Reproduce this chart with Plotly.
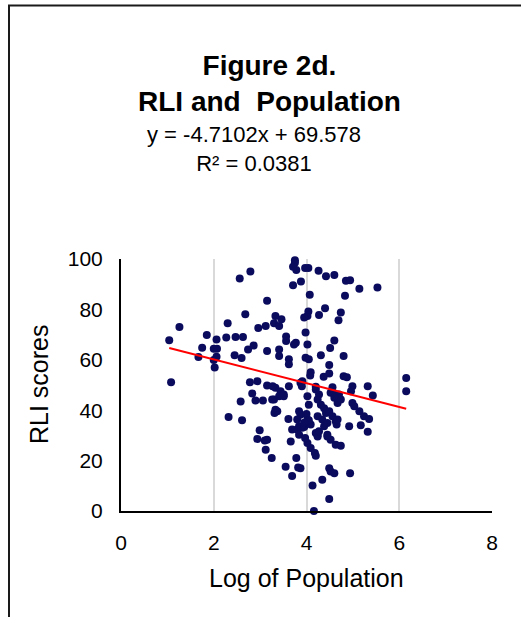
import plotly.graph_objects as go

# Log of population (x) and RLI scores (y)
log_population = [
    3.75, 3.75, 3.71, 3.78, 3.97, 4.04, 4.26, 4.42, 4.60, 4.85, 4.94, 5.14, 5.53,
    3.71, 3.88, 4.07, 4.83, 3.15, 4.40, 4.04, 4.02, 4.27, 4.74, 4.69, 3.95, 3.33,
    3.46, 3.30, 3.41, 3.12, 3.98, 3.56, 4.60, 3.77, 4.02,
    2.56, 2.79, 2.68, 2.30, 1.26, 2.96, 1.85, 1.04, 2.06, 2.27, 2.47, 2.63, 1.75,
    2.00, 2.07, 1.67, 2.00, 2.06, 2.02, 2.45, 2.60, 2.74, 2.86, 3.15, 3.41, 3.41,
    3.56, 3.73, 3.62, 3.62, 3.98, 4.05, 4.31, 4.51, 4.80, 4.49, 4.09, 4.08, 4.49,
    4.37, 4.80, 4.87, 6.15, 6.15,
    4.99, 5.32, 4.56, 4.20, 5.43, 4.96, 4.60, 4.70, 4.99, 5.03, 5.14, 5.24, 5.35,
    4.92, 5.17, 5.32, 4.63, 4.65, 4.20, 4.24, 4.45, 4.52, 4.63, 4.74, 4.02, 4.09,
    4.18, 4.20, 4.49, 4.52, 4.60, 4.94, 4.34, 4.13, 4.49, 4.16, 3.87, 4.24, 4.34,
    4.42,
    1.08, 2.78, 2.94, 3.15, 2.83, 2.58, 2.90, 3.06, 3.33, 3.44, 3.51, 3.62, 3.41,
    3.30, 3.33, 3.31, 2.32, 2.61, 2.99, 2.94, 3.10, 3.12, 3.25, 3.55, 3.69, 3.82,
    3.78, 3.61, 3.66, 3.69, 3.15, 3.80, 3.91, 3.84, 3.97, 3.27,
    3.87, 3.90, 3.26, 3.51, 3.37, 3.84, 3.87, 4.02, 4.05, 4.20, 4.27, 4.24, 4.31,
    4.52, 4.60, 4.67, 4.74, 4.38, 4.49, 4.56, 4.67, 3.80, 4.02, 4.45, 3.84, 3.95,
    4.09, 4.24, 4.27, 4.38, 4.45, 3.91, 4.00, 4.05, 3.95,
]
rli_scores = [
    99.5, 98.5, 96.9, 95.6, 96.4, 96.4, 95.3, 93.2, 93.7, 91.4, 91.6, 88.2, 88.7,
    89.6, 91.1, 85.8, 85.4, 83.4, 80.5, 79.2, 77.4, 77.8, 78.8, 75.7, 76.8, 77.4,
    76.1, 74.5, 73.4, 73.4, 70.8, 69.2, 67.7, 66.8, 66.1,
    92.3, 95.0, 78.1, 74.5, 73.0, 72.6, 69.8, 67.8, 68.1, 68.8, 69.0, 69.0, 64.8,
    64.4, 64.4, 61.1, 59.9, 61.2, 56.9, 61.8, 60.7, 64.1, 65.7, 63.5, 64.1, 61.5,
    67.5, 66.1, 60.2, 58.2, 60.8, 60.2, 61.8, 64.7, 61.5, 57.9, 55.1, 53.8, 54.6,
    53.3, 53.5, 53.1, 52.8, 47.5,
    49.5, 49.5, 49.1, 49.3, 45.8, 47.5, 46.2, 46.2, 42.9, 41.6, 39.6, 37.6, 36.5,
    33.6, 34.0, 31.4, 35.6, 34.3, 31.0, 30.3, 29.6, 28.3, 26.3, 25.9, 27.0, 25.0,
    23.0, 21.9, 17.0, 15.7, 15.0, 15.0, 12.4, 10.1, 4.8, 0.0, 17.0, 37.6, 36.3,
    38.9,
    51.1, 51.1, 51.5, 49.8, 46.6, 43.5, 43.8, 43.8, 48.9, 47.5, 46.2, 49.5, 45.5,
    44.2, 40.2, 38.9, 37.3, 36.0, 32.0, 28.6, 28.0, 24.3, 21.0, 17.6, 13.9, 17.3,
    21.0, 36.5, 27.6, 32.3, 28.3, 32.3, 33.0, 30.3, 29.0, 49.5,
    50.9, 49.5, 44.2, 45.5, 39.6, 39.6, 38.2, 45.5, 42.2, 48.2, 46.2, 44.2, 42.2,
    46.9, 44.9, 42.9, 44.2, 40.8, 39.6, 37.6, 36.3, 36.3, 36.3, 34.9, 33.6, 33.3,
    34.3, 29.6, 31.6, 33.6, 30.3, 51.5, 38.5, 36.0, 35.0,
]

# Linear trendline shown on the chart
SLOPE = -4.7102
INTERCEPT = 69.578
R2 = 0.0381

x_ticks = [0, 2, 4, 6, 8]
y_ticks = [0, 20, 40, 60, 80, 100]

FONT = "Liberation Sans, Arial, sans-serif"

xmin, xmax = min(log_population), max(log_population)
trend_x = [xmin, xmax]
trend_y = [SLOPE * v + INTERCEPT for v in trend_x]

fig = go.Figure()
fig.add_trace(go.Scatter(
    x=log_population, y=rli_scores, mode="markers",
    marker=dict(color="#0b0b5e", size=8, line=dict(width=0)),
    cliponaxis=False, showlegend=False, hoverinfo="x+y",
))
fig.add_trace(go.Scatter(
    x=trend_x, y=trend_y, mode="lines",
    line=dict(color="#ff0000", width=2), showlegend=False,
))

L, R, T, B = 121, 29, 259, 106
W, H = 521, 617
pw, ph = W - L - R, H - T - B

def py(p):
    return (H - B - p) / ph

def px(p):
    return (p - L) / pw

annotations = [
    dict(text="<b>Figure 2d.</b><br><b>RLI and  Population</b>",
         x=px(269), y=py(83), font=dict(size=28)),
    dict(text="y = -4.7102x + 69.578<br>R² = 0.0381",
         x=px(254), y=py(149), font=dict(size=22)),
    dict(text="Log of Population", x=px(306), y=py(578), font=dict(size=25)),
    dict(text="RLI scores", x=px(39), y=py(385), textangle=-90, font=dict(size=25)),
]
for a in annotations:
    a.update(xref="paper", yref="paper", showarrow=False,
             xanchor="center", yanchor="middle", align="center")
    a["font"].update(family=FONT, color="#000000")

fig.update_layout(
    width=W, height=H,
    margin=dict(l=L, r=R, t=T, b=B, pad=0),
    paper_bgcolor="white", plot_bgcolor="white",
    font=dict(family=FONT, color="#000000"),
    annotations=annotations,
    shapes=[dict(type="rect", xref="paper", yref="paper",
                 x0=px(9), x1=px(540), y0=py(660), y1=py(5.5),
                 line=dict(color="#1a1a1a", width=2), layer="below")],
    xaxis=dict(range=[0, 8], tickvals=x_ticks, showgrid=True,
               gridcolor="#d9d9d9", gridwidth=1.5, zeroline=False,
               showline=True, linecolor="#000000", linewidth=2,
               ticks="", tickfont=dict(size=21, family=FONT),
               ticklabelstandoff=12, fixedrange=True),
    yaxis=dict(range=[0, 100], tickvals=y_ticks, showgrid=False,
               zeroline=False, showline=True, linecolor="#000000",
               linewidth=2, ticks="", tickfont=dict(size=21, family=FONT),
               ticklabelstandoff=12, fixedrange=True),
)

fig.write_html("out.html")
